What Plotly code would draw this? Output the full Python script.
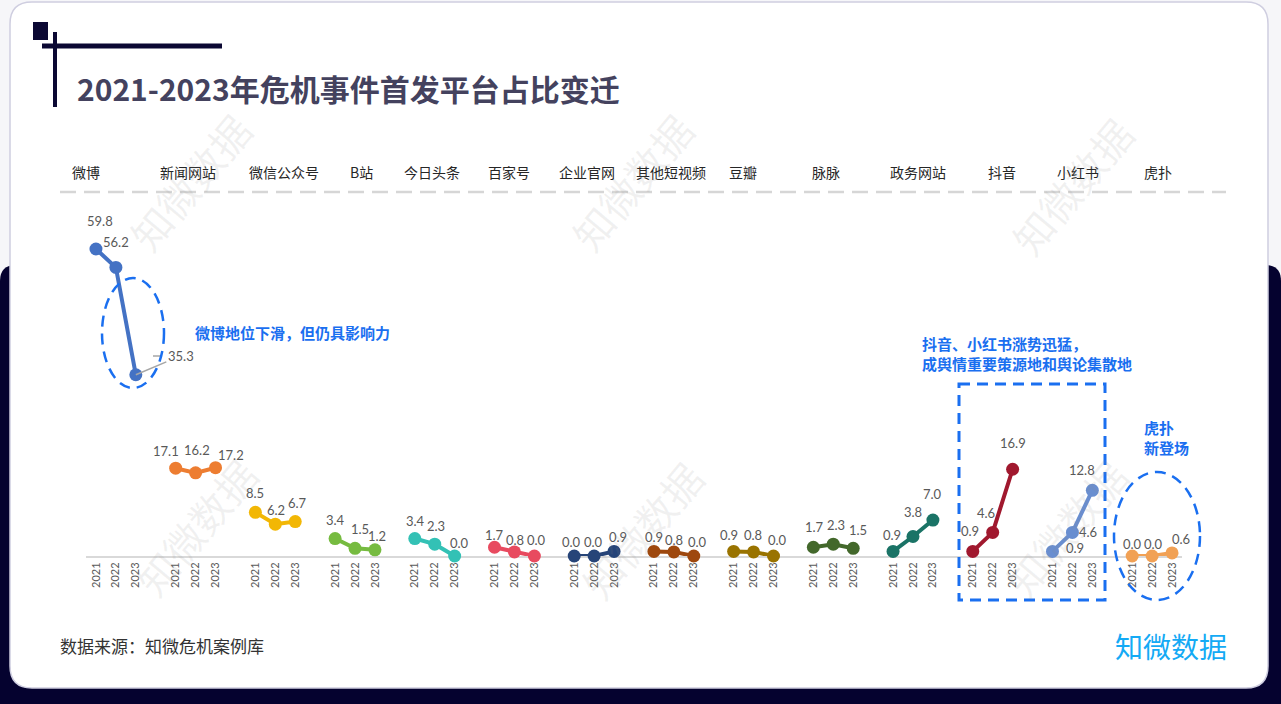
import plotly.graph_objects as go

# ---------------- data ----------------
platforms = ["微博", "新闻网站", "微信公众号", "B站", "今日头条", "百家号", "企业官网",
             "其他短视频", "豆瓣", "脉脉", "政务网站", "抖音", "小红书", "虎扑"]
years = ["2021", "2022", "2023"]
v_weibo = [59.8, 56.2, 35.3]
v_news = [17.1, 16.2, 17.2]
v_wechat = [8.5, 6.2, 6.7]
v_bili = [3.4, 1.5, 1.2]
v_toutiao = [3.4, 2.3, 0.0]
v_baijia = [1.7, 0.8, 0.0]
v_corp = [0.0, 0.0, 0.9]
v_othervideo = [0.9, 0.8, 0.0]
v_douban = [0.9, 0.8, 0.0]
v_maimai = [1.7, 2.3, 1.5]
v_gov = [0.9, 3.8, 7.0]
v_douyin = [0.9, 4.6, 16.9]
v_xhs = [0.9, 4.6, 12.8]
v_hupu = [0.0, 0.0, 0.6]
series = [v_weibo, v_news, v_wechat, v_bili, v_toutiao, v_baijia, v_corp,
          v_othervideo, v_douban, v_maimai, v_gov, v_douyin, v_xhs, v_hupu]

# ---------------- styles ----------------
colors = ["#4472C4", "#ED7D31", "#F2B705", "#76BB40", "#33C1B5", "#E84A5F", "#264478",
          "#9E480E", "#997300", "#43682B", "#1A7366", "#A0182E", "#698ED0", "#F1A155"]
# label offsets in pixels (dx, dy-up) for data labels
lab_off = {
    (0, 0): (4, 28), (0, 1): (0, 25),
    (1, 0): (-10, 17), (1, 1): (1, 23), (1, 2): (15, 13),
    (2, 0): (0, 19), (2, 1): (1, 14), (2, 2): (2, 19),
    (3, 0): (0, 19), (3, 1): (5, 19), (3, 2): (2, 14),
    (4, 0): (1, 18), (4, 1): (1, 18), (4, 2): (5, 13),
    (5, 0): (0, 12), (5, 1): (1, 12), (5, 2): (2, 16),
    (6, 0): (-3, 14), (6, 1): (-1, 14), (6, 2): (4, 14),
    (7, 0): (0, 14), (7, 1): (0, 12), (7, 2): (4, 14),
    (8, 0): (-5, 16), (8, 1): (-1, 17), (8, 2): (4, 16),
    (9, 0): (1, 20), (9, 1): (3, 19), (9, 2): (5, 18),
    (10, 0): (-1, 16), (10, 1): (0, 24), (10, 2): (0, 26),
    (11, 0): (-3, 20), (11, 1): (-7, 19), (11, 2): (0, 26),
    (12, 0): (23, 3), (12, 1): (16, 0), (12, 2): (-10, 20),
    (13, 0): (0, 12), (13, 1): (1, 12), (13, 2): (9, 14),
}
header_shift = [-30, -8, 9, 6, -3, -5, -7, -3, -11, -7, 5, 9, 6, 6]

W, H = 1281, 704
def px(x): return x / W
def py(y): return 1 - y / H

def rrect(x0, y0, x1, y1, r):
    pts = [("M", x0 + r, y0), ("L", x1 - r, y0), ("Q", x1, y0, x1, y0 + r),
           ("L", x1, y1 - r), ("Q", x1, y1, x1 - r, y1), ("L", x0 + r, y1),
           ("Q", x0, y1, x0, y1 - r), ("L", x0, y0 + r), ("Q", x0, y0, x0 + r, y0)]
    s = ""
    for p in pts:
        if p[0] == "Q":
            s += f"Q{px(p[1]):.5f},{py(p[2]):.5f} {px(p[3]):.5f},{py(p[4]):.5f} "
        else:
            s += f"{p[0]}{px(p[1]):.5f},{py(p[2]):.5f} "
    return s + "Z"

fig = go.Figure()
tickvals, ticktext = [], []
for g, vals in enumerate(series):
    xs = [g * 4 + i for i in range(3)]
    tickvals += xs
    ticktext += years
    fig.add_trace(go.Scatter(x=xs, y=vals, mode="lines+markers",
                             line=dict(color=colors[g], width=4),
                             marker=dict(color=colors[g], size=13),
                             cliponaxis=False, hoverinfo="skip", showlegend=False))

annotations = []
label_font = dict(family="Lato, Noto Sans, sans-serif", size=13, color="#595959")
for g, vals in enumerate(series):
    for i, v in enumerate(vals):
        x = g * 4 + i
        if (g, i) == (0, 2):
            annotations.append(dict(x=x, y=v, xref="x", yref="y", text=f"{v:.1f}",
                                    showarrow=True, arrowhead=0, arrowwidth=1.5,
                                    arrowcolor="#A6A6A6", ax=45, ay=-19,
                                    font=label_font, standoff=0, startstandoff=0))
            continue
        dx, dy = lab_off.get((g, i), (0, 18))
        annotations.append(dict(x=x, y=v, xref="x", yref="y", text=f"{v:.1f}",
                                showarrow=False, xshift=dx, yshift=dy,
                                font=label_font))

# header labels
for g, name in enumerate(platforms):
    annotations.append(dict(x=g * 4 + 1, y=py(172), xref="x", yref="paper",
                            xanchor="center", yanchor="middle",
                            text=name, showarrow=False, xshift=header_shift[g],
                            font=dict(family="Noto Sans CJK SC", size=14, color="#262626")))

def ptext(x, y, text, font, xanchor="left", align="left"):
    annotations.append(dict(x=px(x), y=py(y), xref="paper", yref="paper", xanchor=xanchor,
                            yanchor="middle", align=align, text=text, showarrow=False,
                            font=font))

blue = "#1A6FF0"
ptext(75, 88, "<b>2021-2023年危机事件首发平台占比变迁</b>",
      dict(family="Noto Sans CJK SC", size=30, color="#44425E"))
ptext(193, 332, "<b>微博地位下滑，但仍具影响力</b>",
      dict(family="Noto Sans CJK SC", size=15, color=blue))
ptext(920, 353, "<b>抖音、小红书涨势迅猛，<br>成舆情重要策源地和舆论集散地</b>",
      dict(family="Noto Sans CJK SC", size=15, color=blue))
ptext(1142, 437, "<b>虎扑<br>新登场</b>",
      dict(family="Noto Sans CJK SC", size=15, color=blue))
ptext(58, 645, "数据来源：知微危机案例库",
      dict(family="Noto Sans CJK SC", size=17, color="#333333"))
ptext(1229, 646, "知微数据",
      dict(family="Noto Sans CJK SC", size=28, color="#14AAF5"), xanchor="right")

# watermarks
for (wx, wy) in [(190, 182), (632, 182), (1072, 186), (196, 527), (642, 530), (1066, 528)]:
    annotations.append(dict(x=px(wx), y=py(wy), xref="paper", yref="paper",
                            xanchor="center", yanchor="middle",
                            text="知微数据", showarrow=False, textangle=-50,
                            font=dict(family="Noto Sans CJK SC", size=40,
                                      color="rgba(140,140,140,0.12)")))

navy = "#05022F"
shapes = [
    dict(type="path", path=rrect(0, 265, 1281, 800, 16), xref="paper", yref="paper",
         fillcolor=navy, line=dict(width=0), layer="below"),
    dict(type="path", path=rrect(10, 2, 1268, 688, 22), xref="paper", yref="paper",
         fillcolor="white", line=dict(color="#CFCEE0", width=1.5), layer="below"),
    dict(type="rect", x0=px(33), x1=px(48), y0=py(22), y1=py(40), xref="paper", yref="paper",
         fillcolor="#0B0833", line=dict(width=0), layer="below"),
    dict(type="line", x0=px(55), x1=px(55), y0=py(32), y1=py(107), xref="paper", yref="paper",
         line=dict(color="#0B0833", width=4), layer="below"),
    dict(type="line", x0=px(42), x1=px(222), y0=py(46), y1=py(46), xref="paper", yref="paper",
         line=dict(color="#0B0833", width=5), layer="below"),
    dict(type="line", x0=px(60), x1=px(1226), y0=py(192), y1=py(192), xref="paper", yref="paper",
         line=dict(color="#D6D6D6", width=2.5, dash="16px,8px"), layer="below"),
    # 35.3 leader elbow
    dict(type="line", x0=px(153), x1=px(161), y0=py(356), y1=py(356), xref="paper", yref="paper",
         line=dict(color="#A6A6A6", width=1.5), layer="above"),
    dict(type="circle", x0=px(102), x1=px(164), y0=py(278), y1=py(388), xref="paper", yref="paper",
         line=dict(color=blue, width=2.5, dash="11px,7px"), layer="above"),
    dict(type="rect", x0=px(959), x1=px(1105), y0=py(384), y1=py(600), xref="paper", yref="paper",
         line=dict(color=blue, width=3, dash="11px,7px"), layer="above"),
    dict(type="circle", x0=px(1114), x1=px(1200), y0=py(472), y1=py(600), xref="paper", yref="paper",
         line=dict(color=blue, width=2.5, dash="11px,7px"), layer="above"),
]

y_px_per_unit = 5.134
ymax = 70
fig.update_layout(
    width=W, height=H, template="none",
    margin=dict(l=0, r=0, t=0, b=0, autoexpand=False),
    paper_bgcolor="#F6F6F9", plot_bgcolor="rgba(0,0,0,0)",
    showlegend=False, annotations=annotations, shapes=shapes,
    xaxis=dict(domain=[px(86), px(1182)], range=[-0.5, 54.5], tickvals=tickvals,
               ticktext=ticktext, tickangle=-90, showgrid=False, zeroline=False,
               showline=True, linecolor="#D9D9D9", linewidth=2, ticks="",
               layer="below traces", automargin=False, fixedrange=True,
               tickfont=dict(family="Lato, Noto Sans, sans-serif", size=11, color="#595959")),
    yaxis=dict(domain=[py(556), py(556 - ymax * y_px_per_unit)], range=[0, ymax],
               showgrid=False, zeroline=False, showticklabels=False, showline=False,
               automargin=False, fixedrange=True),
)

fig.write_html("out.html", config={"displayModeBar": False},
               post_script="document.body.style.margin='0';document.body.style.overflow='hidden';")
